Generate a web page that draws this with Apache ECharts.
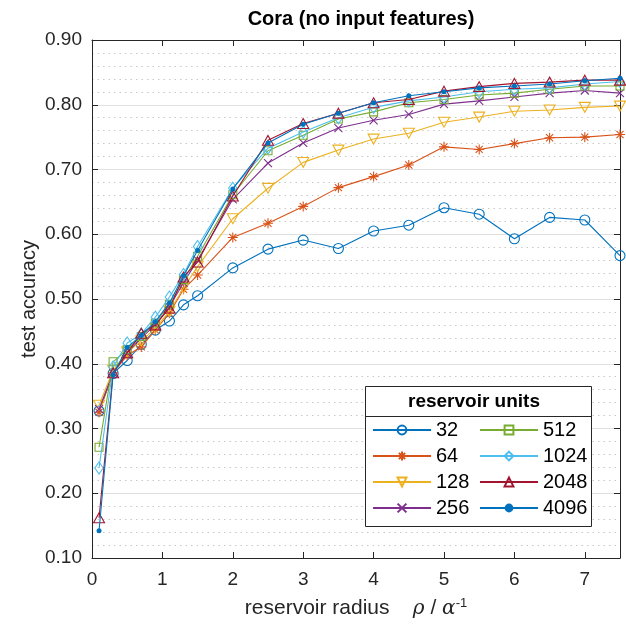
<!DOCTYPE html>
<html>
<head>
<meta charset="utf-8">
<script src="https://cdn.jsdelivr.net/npm/echarts@6/dist/echarts.min.js"></script>
<style>html,body{margin:0;padding:0;background:#fff}#c{width:626px;height:635px}</style>
</head>
<body>
<div id="c"></div>
<script>
const radius = [0.1,0.3,0.5,0.7,0.9,1.1,1.3,1.5,2,2.5,3,3.5,4,4.5,5,5.5,6,6.5,7,7.5];
const units = ['32','64','128','256','512','1024','2048','4096'];
const acc32   = [0.327,0.385,0.405,0.430,0.452,0.466,0.491,0.505,0.548,0.577,0.591,0.578,0.605,0.614,0.641,0.631,0.593,0.626,0.622,0.567];
const acc64   = [0.325,0.386,0.413,0.426,0.452,0.478,0.515,0.537,0.595,0.617,0.643,0.672,0.689,0.707,0.735,0.731,0.740,0.749,0.750,0.754];
const acc128  = [0.336,0.390,0.418,0.435,0.455,0.481,0.517,0.550,0.624,0.671,0.711,0.730,0.747,0.756,0.773,0.781,0.790,0.792,0.796,0.798];
const acc256  = [0.330,0.386,0.417,0.440,0.460,0.488,0.525,0.560,0.654,0.710,0.741,0.764,0.776,0.785,0.801,0.806,0.812,0.818,0.822,0.818];
const acc512  = [0.271,0.403,0.422,0.442,0.463,0.492,0.530,0.566,0.661,0.729,0.753,0.778,0.789,0.803,0.808,0.815,0.818,0.824,0.829,0.829];
const acc1024 = [0.239,0.395,0.432,0.446,0.472,0.503,0.538,0.581,0.671,0.733,0.758,0.780,0.796,0.806,0.812,0.820,0.824,0.826,0.832,0.836];
const acc2048 = [0.162,0.386,0.417,0.447,0.460,0.486,0.534,0.557,0.659,0.745,0.771,0.787,0.803,0.808,0.821,0.828,0.833,0.835,0.838,0.838];
const acc4096 = [0.142,0.383,0.425,0.444,0.465,0.494,0.536,0.575,0.670,0.741,0.770,0.787,0.803,0.814,0.820,0.826,0.829,0.832,0.837,0.841];
const values = [acc32,acc64,acc128,acc256,acc512,acc1024,acc2048,acc4096];

const colors = ['#0072BD','#D95319','#EDB120','#7E2F8E','#77AC30','#4DBEEE','#A2142F','#0072BD'];
const symbols = [
  'circle',
  'path://M0,-1L0,1M-1,0L1,0M-0.71,-0.71L0.71,0.71M-0.71,0.71L0.71,-0.71',
  'path://M-1,-0.9L1,-0.9L0,0.9Z',
  'path://M-1,-1L1,1M-1,1L1,-1',
  'path://M-1,-1L1,-1L1,1L-1,1Z',
  'path://M0,-1L0.7,0L0,1L-0.7,0Z',
  'path://M0,-0.9L1,0.9L-1,0.9Z',
  'circle'
];
const sizes = [10,10,11,8,8,12,11,5];
const FONT = "'Liberation Sans', Arial, Helvetica, sans-serif";

const series = units.map((u,i)=>({
  name: u,
  type: 'line',
  data: radius.map((x,j)=>[x, values[i][j]]),
  symbol: symbols[i],
  symbolSize: sizes[i],
  symbolKeepAspect: true,
  showAllSymbol: true,
  lineStyle: {color: colors[i], width: 1.1},
  itemStyle: i===7 ? {color: colors[i], borderColor: colors[i], borderWidth: 0}
                   : {color: 'rgba(0,0,0,0)', borderColor: colors[i], borderWidth: 1.1},
  emphasis: {disabled: true},
  animation: false,
  z: 2 + i*0.01
}));

const chart = echarts.init(document.getElementById('c'), null, {renderer: 'canvas'});
const axisCol = '#262626';
const legendBase = {
  orient: 'vertical', top: 420,
  itemWidth: 58, itemHeight: 11, itemGap: 6, padding: 0,
  textStyle: {fontFamily: FONT, fontSize: 20, color: '#000'}, z: 10, selectedMode: false
};
chart.setOption({
  animation: false,
  backgroundColor: '#fff',
  title: {
    text: 'Cora (no input features)',
    left: 356, top: 4, textAlign: 'center',
    textStyle: {fontFamily: FONT, fontSize: 20, fontWeight: 'bold', color: '#000'}
  },
  grid: {left: 92, top: 40, right: 6, bottom: 77, containLabel: false},
  xAxis: [{
    type: 'value', min: 0, max: 7.5, interval: 1,
    axisLine: {show: true, onZero: false, lineStyle: {color: axisCol, width: 1}},
    axisTick: {show: true, inside: true, length: 6, lineStyle: {color: axisCol}},
    axisLabel: {fontFamily: FONT, fontSize: 19, color: axisCol, margin: 12,
      formatter: v => Number.isInteger(v) ? String(v) : ''},
    splitLine: {show: false},
    name: 'reservoir radius    {g|ρ} / {g|α}{sup|-1}',
    nameLocation: 'middle', nameGap: 39,
    nameTextStyle: {fontFamily: FONT, fontSize: 21, color: axisCol,
      rich: {
        g: {fontFamily: "'DejaVu Serif', 'Liberation Serif', serif", fontStyle: 'italic', fontSize: 20, color: axisCol},
        sup: {fontFamily: FONT, fontSize: 13, color: axisCol, verticalAlign: 'top', padding: [0,0,10,0]}
      }}
  },{
    type: 'value', min: 0, max: 7.5, interval: 1, position: 'top',
    axisLine: {show: true, onZero: false, lineStyle: {color: axisCol, width: 1}},
    axisTick: {show: true, inside: true, length: 6, lineStyle: {color: axisCol}},
    axisLabel: {show: false}, splitLine: {show: false}
  }],
  yAxis: [{
    type: 'value', min: 0.1, max: 0.9, interval: 0.1,
    axisLine: {show: true, onZero: false, lineStyle: {color: axisCol, width: 1}},
    axisTick: {show: true, inside: true, length: 6, lineStyle: {color: axisCol}},
    axisLabel: {fontFamily: FONT, fontSize: 19, color: axisCol, margin: 10,
      formatter: v => v.toFixed(2)},
    splitLine: {show: true, lineStyle: {color: '#e0e0e0', width: 1}},
    minorTick: {show: false, splitNumber: 5},
    minorSplitLine: {show: true, lineStyle: {color: '#c8c8c8', width: 1, type: [1.5, 4]}},
    name: 'test accuracy', nameLocation: 'middle', nameGap: 53, nameMoveOverlap: false,
    nameTextStyle: {fontFamily: FONT, fontSize: 20, color: axisCol}
  },{
    type: 'value', min: 0.1, max: 0.9, interval: 0.1, position: 'right',
    axisLine: {show: true, onZero: false, lineStyle: {color: axisCol, width: 1}},
    axisTick: {show: true, inside: true, length: 6, lineStyle: {color: axisCol}},
    axisLabel: {show: false}, splitLine: {show: false}
  }],
  legend: [
    Object.assign({}, legendBase, {data: units.slice(0,4), left: 372}),
    Object.assign({}, legendBase, {data: units.slice(4), left: 479})
  ],
  graphic: [
    {type: 'rect', z: 8, shape: {x: 365.5, y: 386.5, width: 226, height: 140},
      style: {fill: '#fff', stroke: axisCol, lineWidth: 1}},
    {type: 'line', z: 9, shape: {x1: 365.5, y1: 416.5, x2: 591.5, y2: 416.5},
      style: {stroke: axisCol, lineWidth: 1}},
    {type: 'text', z: 9, x: 474, y: 402,
      style: {text: 'reservoir units', fontFamily: FONT, fontSize: 19, fontWeight: 'bold',
        fill: '#000', textAlign: 'center', textVerticalAlign: 'middle'}}
  ],
  series: series
});
</script>
</body>
</html>
